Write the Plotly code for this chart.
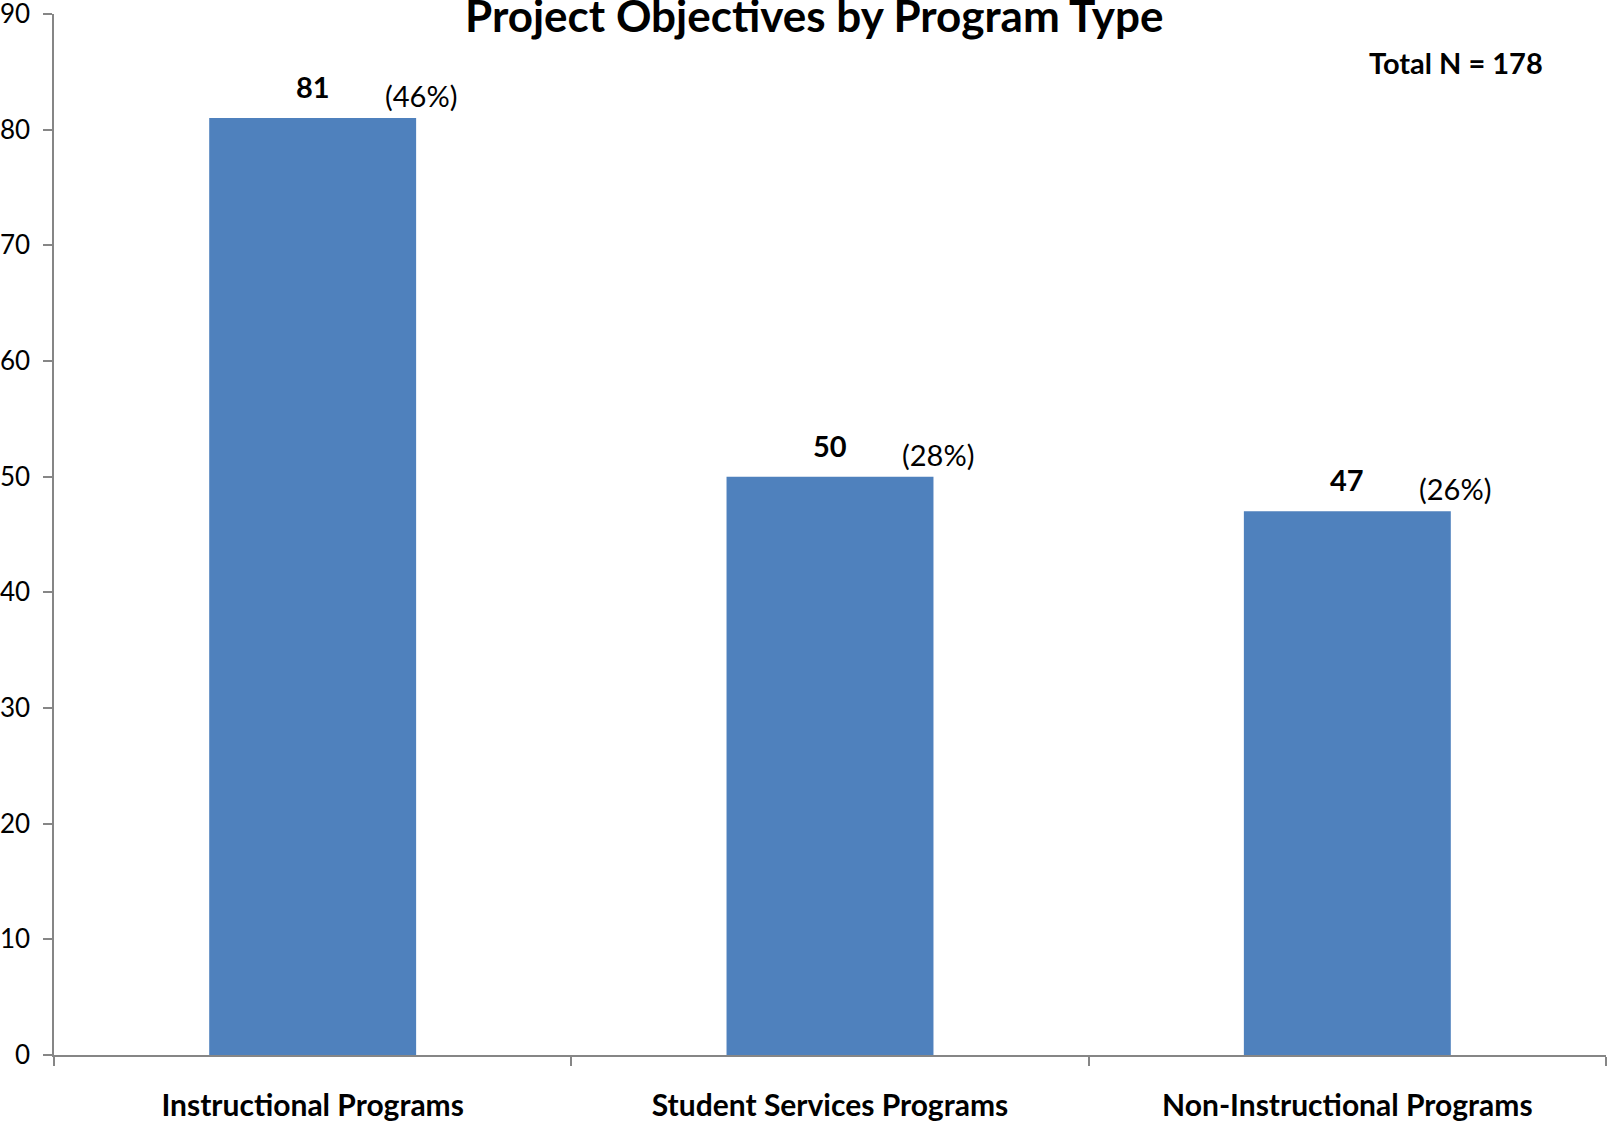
import plotly.graph_objects as go

categories = ["Instructional Programs", "Student Services Programs", "Non-Instructional Programs"]
counts = [81, 50, 47]
pct_labels = ["(46%)", "(28%)", "(26%)"]
total_n = 178
title_text = "Project Objectives by Program Type"

BAR_COLOR = "#4F81BD"
AXIS_COLOR = "#868686"
FONT = "Lato"

fig = go.Figure(
    go.Bar(
        x=categories,
        y=counts,
        width=0.4,
        marker=dict(color=BAR_COLOR, line=dict(width=0)),
        showlegend=False,
        hoverinfo="skip",
    )
)

W, H = 1608, 1124
ML, MR, MT, MB = 54, 2, 14, 69
plot_w = W - ML - MR
plot_h = H - MT - MB


def px_to_paper_x(px):
    return (px - ML) / plot_w


def px_to_paper_y(py):
    return (H - MB - py) / plot_h


annotations = []
for cat, val, pct in zip(categories, counts, pct_labels):
    annotations.append(dict(
        x=cat, y=val, xref="x", yref="y", text=f"<b>{val}</b>",
        showarrow=False, xanchor="center", yanchor="bottom", yshift=12,
        font=dict(family=FONT, size=29, color="#000000"),
    ))
    annotations.append(dict(
        x=cat, y=val, xref="x", yref="y", text=pct,
        showarrow=False, xanchor="left", yanchor="bottom", xshift=70, yshift=3,
        font=dict(family=FONT, size=29, color="#000000"),
    ))

annotations.append(dict(
    x=px_to_paper_x(1456), y=px_to_paper_y(63), xref="paper", yref="paper",
    text=f"<b>Total N = {total_n}</b>", showarrow=False,
    xanchor="center", yanchor="middle",
    font=dict(family=FONT, size=29, color="#000000"),
))
annotations.append(dict(
    x=px_to_paper_x(814), y=px_to_paper_y(15), xref="paper", yref="paper",
    text=f"<b>{title_text}</b>", showarrow=False,
    xanchor="center", yanchor="middle",
    font=dict(family=FONT, size=44, color="#000000"),
))

fig.update_layout(
    width=W, height=H,
    margin=dict(l=ML, r=MR, t=MT, b=MB, autoexpand=False),
    paper_bgcolor="white", plot_bgcolor="white",
    bargap=0.6,
    annotations=annotations,
    xaxis=dict(
        automargin=False,
        showline=True, linecolor=AXIS_COLOR, linewidth=1.5,
        ticks="outside", tickson="boundaries", ticklen=9, tickcolor=AXIS_COLOR, tickwidth=1.5,
        tickfont=dict(family=FONT, size=30, color="#000000", weight="bold"),
        ticklabelstandoff=23,
        showgrid=False, zeroline=False,
    ),
    yaxis=dict(
        automargin=False,
        range=[0, 90], dtick=10, tick0=0,
        showline=True, linecolor=AXIS_COLOR, linewidth=1.5,
        ticks="outside", ticklen=9, tickcolor=AXIS_COLOR, tickwidth=1.5,
        tickfont=dict(family=FONT, size=26, color="#000000"),
        ticklabelstandoff=8,
        ticklabeloverflow="allow",
        showgrid=False, zeroline=False,
    ),
)

fig.write_html(
    "out.html",
    config={"displayModeBar": False},
    post_script="document.body.style.margin='0';",
)
